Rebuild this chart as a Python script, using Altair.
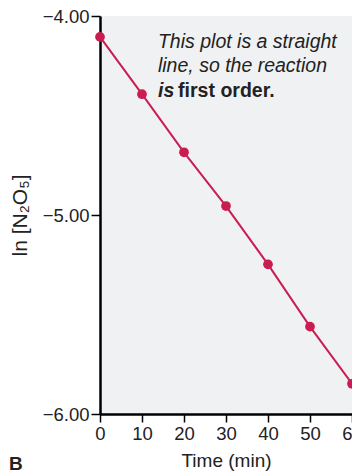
import altair as alt
import pandas as pd

time_min = [0, 10, 20, 30, 40, 50, 60]
ln_n2o5 = [-4.105, -4.393, -4.685, -4.955, -5.248, -5.561, -5.848]

note_lines = ["This plot is a straight", "line, so the reaction"]
note_y = [-4.161, -4.281]
note_x = 13.8
bold_italic_word = "is"
bold_rest = "first order."
bold_line_y = -4.407
bold_rest_x = 18.6

df = pd.DataFrame({"t": time_min, "y": ln_n2o5})
notes = pd.DataFrame({"t": [note_x] * 2, "y": note_y, "label": note_lines})
w1 = pd.DataFrame({"t": [note_x], "y": [bold_line_y], "label": [bold_italic_word]})
w2 = pd.DataFrame({"t": [bold_rest_x], "y": [bold_line_y], "label": [bold_rest]})

RED = "#c91d52"
FONT = "Liberation Sans"

xs = alt.Scale(domain=[0, 60], nice=False)
ys = alt.Scale(domain=[-6, -4], nice=False)

base = alt.Chart(df).encode(
    x=alt.X("t:Q", scale=xs, axis=alt.Axis(
        values=time_min, title="Time (min)", tickSize=8, labelPadding=2,
        labelFontSize=18.5, titleFontSize=19, titleFontWeight="normal",
        titlePadding=9, labelFlush=False, titleFont=FONT)),
    y=alt.Y("y:Q", scale=ys, axis=alt.Axis(
        values=[-4, -5, -6], format=".2f", title="ln [N₂O₅]", tickSize=9,
        labelPadding=2, labelFontSize=18.5, titleFontSize=21,
        titleFontWeight="normal", titlePadding=12, titleFont=FONT)),
)

line = base.mark_line(color=RED, strokeWidth=2)
pts = base.mark_circle(color=RED, size=95, opacity=1)

t1 = alt.Chart(notes).mark_text(align="left", baseline="alphabetic", fontStyle="italic",
                                 fontSize=19.5, font=FONT, color="#222").encode(
    x=alt.X("t:Q", scale=xs), y=alt.Y("y:Q", scale=ys), text="label:N")
t2 = alt.Chart(w1).mark_text(align="left", baseline="alphabetic", fontStyle="italic",
                              fontWeight="bold", fontSize=19.5, font=FONT, color="#222").encode(
    x=alt.X("t:Q", scale=xs), y=alt.Y("y:Q", scale=ys), text="label:N")
t3 = alt.Chart(w2).mark_text(align="left", baseline="alphabetic",
                              fontWeight="bold", fontSize=19.5, font=FONT, color="#222").encode(
    x=alt.X("t:Q", scale=xs), y=alt.Y("y:Q", scale=ys), text="label:N")

b_label = alt.Chart(pd.DataFrame({"label": ["B"]})).mark_text(
    align="left", baseline="alphabetic", fontWeight="bold", fontSize=19, font=FONT,
    color="#222").encode(x=alt.value(-91), y=alt.value(454), text="label:N")

chart = alt.layer(line, pts, t1, t2, t3, b_label).properties(
    width=252, height=398,
    autosize=alt.AutoSizeParams(type="none"),
    padding={"left": 92, "top": 8, "right": 0, "bottom": 60},
).configure_view(
    fill="#f0f1f3", stroke=None
).configure_axis(
    grid=False, domainColor="black", domainWidth=2.5, tickColor="black",
    tickWidth=1.5, labelFont=FONT, titleFont=FONT,
    labelColor="#222", titleColor="#222"
)

chart.save("out.html", embed_options={"renderer": "svg", "actions": False})
